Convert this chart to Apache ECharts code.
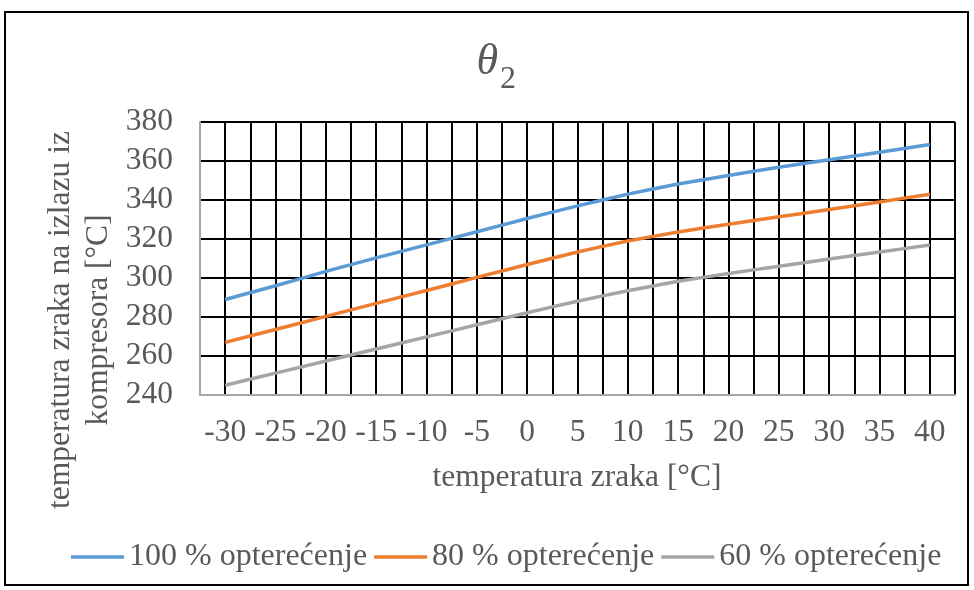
<!DOCTYPE html>
<html>
<head>
<meta charset="utf-8">
<script src="https://cdn.jsdelivr.net/npm/echarts@6/dist/echarts.min.js"></script>
<style>
html,body{margin:0;padding:0;background:#fff;}
#main{width:974px;height:590px;}
</style>
</head>
<body>
<div id="main"></div>
<script>
// Data
var temps = [-30, -25, -20, -15, -10, -5, 0, 5, 10, 15, 20, 25, 30, 35, 40];
var load100 = [289, 296, 303.4, 310.3, 317, 323.7, 330.5, 337, 343, 348.2, 352.6, 356.8, 360.6, 364.5, 368.5];
var load80 = [267, 273.6, 280.3, 287, 293.6, 300.3, 306.9, 313.3, 319, 323.6, 327.6, 331.4, 335.1, 339, 343];
var load60 = [245, 251.2, 257.4, 263.6, 269.8, 276, 282.2, 288.1, 293.5, 298.3, 302.3, 306, 309.7, 313.3, 316.9];
var seriesNames = ['100 % opterećenje', '80 % opterećenje', '60 % opterećenje'];
var seriesColors = ['#5B9BD5', '#ED7D31', '#A5A5A5'];
var yTicks = [240, 260, 280, 300, 320, 340, 360, 380];
var xLabelMin = -30, xLabelMax = 40;

var FONT = '"Liberation Serif", "Times New Roman", serif';
var TXT = '#595959';

function pairs(vals) {
  return temps.map(function (t, i) { return [t, vals[i]]; });
}
var allVals = [load100, load80, load60];

var chart = echarts.init(document.getElementById('main'), null, {renderer: 'canvas'});
chart.setOption({
  backgroundColor: '#fff',
  animation: false,
  textStyle: {fontFamily: FONT},
  legend: {
    data: seriesNames,
    left: 66,
    top: 536,
    itemWidth: 53,
    itemHeight: 3.5,
    itemGap: 7,
    icon: 'rect',
    textStyle: {fontFamily: FONT, fontSize: 32, color: TXT}
  },
  grid: {left: 200, right: 19, top: 122, bottom: 195, containLabel: false},
  xAxis: {
    type: 'value',
    min: -32.5,
    max: 42.5,
    interval: 2.5,
    axisLine: {show: true, onZero: false, lineStyle: {color: '#A6A6A6', width: 2}},
    axisTick: {show: false},
    splitLine: {show: true, lineStyle: {color: '#000', width: 2}},
    axisLabel: {
      margin: 22,
      fontFamily: FONT,
      fontSize: 31.5,
      color: TXT,
      showMinLabel: true,
      showMaxLabel: true,
      formatter: function (v) {
        if (v < xLabelMin || v > xLabelMax) return '';
        if (Math.abs(v % 5) > 1e-6) return '';
        return String(v);
      }
    }
  },
  yAxis: {
    type: 'value',
    min: yTicks[0],
    max: yTicks[yTicks.length - 1],
    interval: 20,
    axisLine: {show: true, onZero: false, lineStyle: {color: '#A6A6A6', width: 2}},
    axisTick: {show: false},
    splitLine: {show: true, lineStyle: {color: '#000', width: 2}},
    axisLabel: {margin: 27, fontFamily: FONT, fontSize: 31.5, color: TXT}
  },
  series: seriesNames.map(function (name, i) {
    return {
      name: name,
      type: 'line',
      data: pairs(allVals[i]),
      symbol: 'none',
      smooth: 0.15,
      lineStyle: {color: seriesColors[i], width: 3.5},
      itemStyle: {color: seriesColors[i]},
      z: 5
    };
  }),
  graphic: [
    {
      type: 'rect',
      shape: {x: 5, y: 12, width: 963, height: 573},
      style: {fill: 'none', stroke: '#000', lineWidth: 2},
      silent: true, z: -1
    },
    {
      type: 'text',
      x: 498, y: 62,
      style: {text: 'θ', font: 'italic 44px ' + FONT, fill: TXT, align: 'right', verticalAlign: 'middle'}
    },
    {
      type: 'text',
      x: 500, y: 80,
      style: {text: '2', font: '32px ' + FONT, fill: TXT, align: 'left', verticalAlign: 'middle'}
    },
    {
      type: 'text',
      x: 577, y: 478,
      style: {text: 'temperatura zraka [°C]', font: '31.5px ' + FONT, fill: TXT, align: 'center', verticalAlign: 'middle'}
    },
    {
      type: 'text',
      x: 80, y: 320,
      rotation: Math.PI / 2,
      style: {
        text: 'temperatura zraka na izlazu iz\nkompresora [°C]',
        font: '31.5px ' + FONT, fill: TXT, align: 'center', verticalAlign: 'middle', lineHeight: 38
      }
    }
  ]
});
</script>
</body>
</html>
